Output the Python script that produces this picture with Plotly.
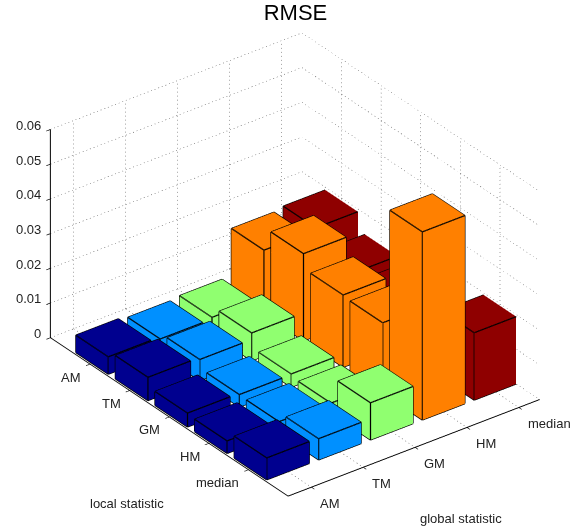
import math
import plotly.graph_objects as go

local_stat = ["AM", "TM", "GM", "HM", "median"]
global_stat = ["AM", "TM", "GM", "HM", "median"]
rmse_am = [0.0050, 0.0067, 0.0040, 0.0036, 0.0063]
rmse_tm = [0.0044, 0.0061, 0.0036, 0.0034, 0.0061]
rmse_gm = [0.0049, 0.0080, 0.0038, 0.0030, 0.0107]
rmse_hm = [0.0185, 0.0251, 0.0208, 0.0204, 0.0542]
rmse_median = [0.0192, 0.0140, 0.0133, 0.0120, 0.0194]
series_values = [rmse_am, rmse_tm, rmse_gm, rmse_hm, rmse_median]
series_colors = ["#00008f", "#0090ff", "#90ff70", "#ff8000", "#8f0000"]
z_ticks = [0, 0.01, 0.02, 0.03, 0.04, 0.05, 0.06]

X_RANGE = [0, 6]
Y_RANGE = [0.55, 5.4]
Z_RANGE = [0, 0.06]
HALF = 0.41
x_ticks = [i + 1 for i in range(len(local_stat))]
y_ticks = [j + 1 for j in range(len(global_stat))]

fig = go.Figure()

# dotted grid: short solid pieces give a finer dot than the built-in dash
gx, gy, gz = [], [], []
def seg(a, b, n):
    for k in range(n):
        t0, t1 = k / n, (k + 0.25) / n
        for t in (t0, t1):
            gx.append(a[0] + (b[0] - a[0]) * t)
            gy.append(a[1] + (b[1] - a[1]) * t)
            gz.append(a[2] + (b[2] - a[2]) * t)
        gx.append(None); gy.append(None); gz.append(None)
NX, NY, NZ = 72, 70, 52
for z in z_ticks:
    seg((X_RANGE[0], Y_RANGE[0], z), (X_RANGE[0], Y_RANGE[1], z), NY)
    seg((X_RANGE[0], Y_RANGE[1], z), (X_RANGE[1], Y_RANGE[1], z), NX)
for x in x_ticks:
    seg((x, Y_RANGE[0], 0), (x, Y_RANGE[1], 0), NY)
    seg((x, Y_RANGE[1], 0), (x, Y_RANGE[1], Z_RANGE[1]), NZ)
for y in y_ticks:
    seg((X_RANGE[0], y, 0), (X_RANGE[1], y, 0), NX)
    seg((X_RANGE[0], y, 0), (X_RANGE[0], y, Z_RANGE[1]), NZ)
fig.add_trace(go.Scatter3d(x=gx, y=gy, z=gz, mode="lines",
                           line=dict(color="#444444", width=1),
                           hoverinfo="skip", showlegend=False))

# bars
for j, (vals, col) in enumerate(zip(series_values, series_colors)):
    vx, vy, vz, ti, tj, tk = [], [], [], [], [], []
    ex, ey, ez = [], [], []
    for i, v in enumerate(vals):
        x0, x1 = x_ticks[i] - HALF, x_ticks[i] + HALF
        y0, y1 = y_ticks[j] - HALF, y_ticks[j] + HALF
        b = len(vx)
        for (px, py, pz) in [(x0, y0, 0), (x1, y0, 0), (x1, y1, 0), (x0, y1, 0),
                             (x0, y0, v), (x1, y0, v), (x1, y1, v), (x0, y1, v)]:
            vx.append(px); vy.append(py); vz.append(pz)
        for f in [(0, 1, 2, 3), (4, 5, 6, 7), (0, 1, 5, 4), (1, 2, 6, 5), (2, 3, 7, 6), (3, 0, 4, 7)]:
            ti += [b + f[0], b + f[0]]; tj += [b + f[1], b + f[2]]; tk += [b + f[2], b + f[3]]
        for a, c in [(0, 1), (1, 2), (2, 3), (3, 0), (4, 5), (5, 6), (6, 7), (7, 4), (0, 4), (1, 5), (2, 6), (3, 7)]:
            ex += [vx[b + a], vx[b + c], None]
            ey += [vy[b + a], vy[b + c], None]
            ez += [vz[b + a], vz[b + c], None]
    fig.add_trace(go.Mesh3d(x=vx, y=vy, z=vz, i=ti, j=tj, k=tk, color=col, opacity=1,
                            flatshading=True,
                            lighting=dict(ambient=1, diffuse=0, specular=0, roughness=1, fresnel=0),
                            hoverinfo="skip", showlegend=False))
    fig.add_trace(go.Scatter3d(x=ex, y=ey, z=ez, mode="lines",
                               line=dict(color="black", width=2.5),
                               hoverinfo="skip", showlegend=False))

tick_font = dict(family="Liberation Sans, Arial, sans-serif", size=13, color="#222222")
def axis(rng, vals):
    return dict(range=rng, autorange=False, tickmode="array", tickvals=vals,
                showticklabels=False, showgrid=False, zeroline=False, showbackground=False,
                showspikes=False, showline=True, linecolor="black", linewidth=2, ticks="outside",
                ticklen=5, tickcolor="black", tickwidth=1.5, title=dict(text=""))

scene_notes = []
for t in z_ticks:
    scene_notes.append(dict(x=X_RANGE[0], y=Y_RANGE[0], z=t, text=f"{t:g}", showarrow=False,
                            xanchor="right", yanchor="middle", xshift=-7, yshift=4, font=tick_font))
for x, label in zip(x_ticks, local_stat):
    scene_notes.append(dict(x=x, y=Y_RANGE[0], z=0, text=label, showarrow=False,
                            xanchor="right", yanchor="middle", xshift=-7, yshift=-13, font=tick_font))
for y, label in zip(y_ticks, global_stat):
    scene_notes.append(dict(x=X_RANGE[1], y=y, z=0, text=label, showarrow=False,
                            xanchor="left", yanchor="middle", xshift=7, yshift=-16, font=tick_font))

theta = math.radians(-37.2)
elev = math.radians(30.4)
dist = 2.2
eye = dict(x=dist * math.cos(elev) * math.cos(theta),
           y=dist * math.cos(elev) * math.sin(theta),
           z=dist * math.sin(elev))

fig.update_layout(
    width=574, height=531, paper_bgcolor="white",
    margin=dict(l=0, r=0, t=0, b=0),
    showlegend=False,
    title=dict(text="RMSE", x=295.5 / 574, xanchor="center", y=1 - 12.5 / 531, yanchor="middle",
               font=dict(family="Liberation Sans, Arial, sans-serif", size=22, color="black")),
    scene=dict(
        domain=dict(x=[0.028, 1], y=[0.004, 1]),
        xaxis=axis(X_RANGE, x_ticks),
        yaxis=axis(Y_RANGE, y_ticks),
        zaxis=axis(Z_RANGE, z_ticks),
        aspectmode="manual",
        aspectratio=dict(x=1.486, y=1.194, z=0.913),
        camera=dict(eye=eye, up=dict(x=0, y=0, z=1), center=dict(x=0, y=0, z=0),
                    projection=dict(type="orthographic")),
        annotations=scene_notes,
    ),
    annotations=[
        dict(text="local statistic", x=127 / 574, y=1 - 503 / 531, xref="paper", yref="paper",
             xanchor="center", yanchor="middle", showarrow=False, font=tick_font),
        dict(text="global statistic", x=461 / 574, y=1 - 518 / 531, xref="paper", yref="paper",
             xanchor="center", yanchor="middle", showarrow=False, font=tick_font),
    ],
)
fig.write_html("out.html", config={"displayModeBar": False},
               post_script="document.body.style.margin='0';document.body.style.overflow='hidden';")
